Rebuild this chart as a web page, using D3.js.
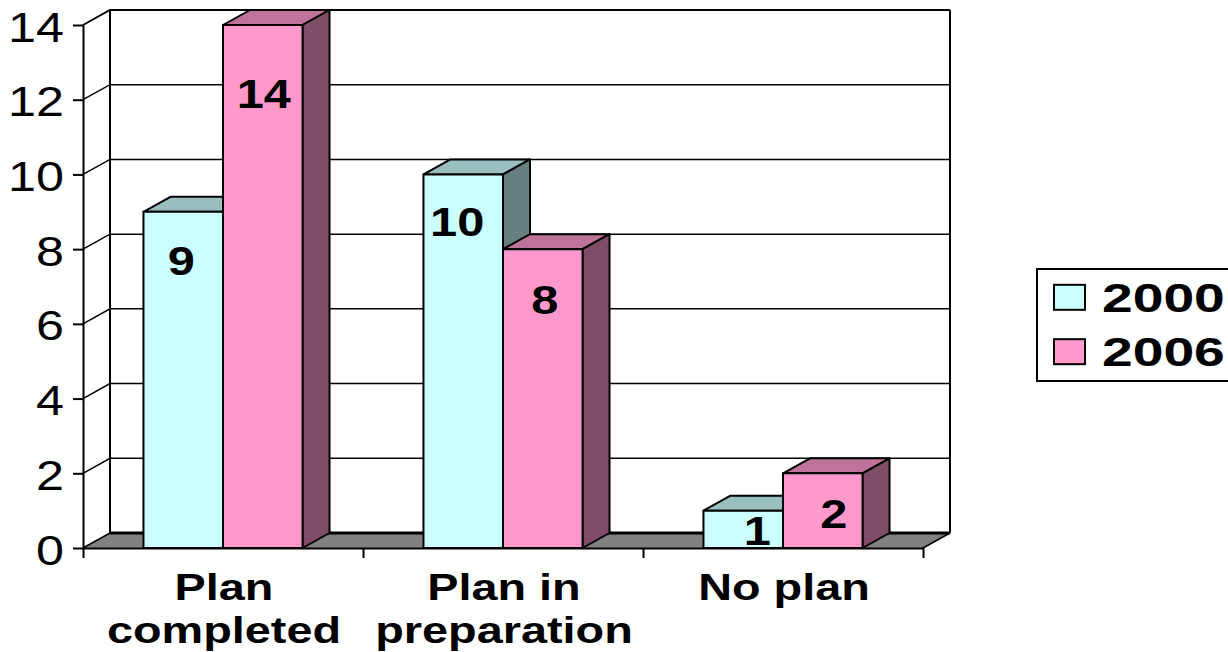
<!DOCTYPE html>
<html>
<head>
<meta charset="utf-8">
<script src="https://cdn.jsdelivr.net/npm/d3@7"></script>
<style>
  html, body { margin: 0; padding: 0; background: #fff; overflow: hidden; }
  svg { display: block; }
  text { font-family: "Liberation Sans", Arial, sans-serif; fill: #000; }
</style>
</head>
<body>
<script>
// data
const categories = ["Plan completed", "Plan in preparation", "No plan"];
const categoryLines = [["Plan", "completed"], ["Plan in", "preparation"], ["No plan"]];
const years = ["2000", "2006"];
const values2000 = [9, 10, 1];
const values2006 = [14, 8, 2];
const yTicks = [0, 2, 4, 6, 8, 10, 12, 14];

// hand placed label shift from the bar centre (the original labels are not centred)
const labelShiftX = [[-2, -6, 14], [1, 2, 11]];
const labelShiftY = [[49, 48, 20], [69, 51, 41]];

const width = 1228, height = 652;
const x0 = 83, x1 = 923, y0 = 548, y14 = 25;
const depthX = 27, depthY = -15;

const colors = [
  {front: "#ccffff", top: "#99bfbf", side: "#668080"},
  {front: "#ff99cc", top: "#bf7399", side: "#804d66"},
];
const series = [values2000, values2006];

const svg = d3.select("body").append("svg")
  .attr("width", width)
  .attr("height", height)
  .attr("viewBox", `0 0 ${width} ${height}`);

const y = d3.scaleLinear().domain([0, 14]).range([y0, y14]);
const xGroup = d3.scaleBand().domain(categories).range([x0, x1]).paddingInner(0.432).paddingOuter(0.216);
const xBar = d3.scaleBand().domain(years).range([0, xGroup.bandwidth()]);
const xEdge = d3.scaleLinear().domain([0, categories.length]).range([x0, x1]);

const poly = pts => pts.map(p => p.join(",")).join(" ");

// floor
svg.append("polygon")
  .attr("points", poly([[x0, y0], [x0 + depthX, y0 + depthY], [x1 + depthX, y0 + depthY], [x1, y0]]))
  .attr("fill", "#808080");

// gridlines, running along the left wall and then the back wall
svg.append("g").selectAll("polyline")
  .data(yTicks.filter(d => d > 0))
  .join("polyline")
  .attr("points", d => poly([[x0, y(d)], [x0 + depthX, y(d) + depthY], [x1 + depthX, y(d) + depthY]]))
  .attr("fill", "none")
  .attr("stroke", "#000")
  .attr("stroke-width", d => d === 14 ? 2 : 1.5);

// wall edges
svg.append("path")
  .attr("d", `M${x0 + depthX},${y(14) + depthY}V${y0 + depthY}M${x1 + depthX},${y(14) + depthY}V${y0 + depthY}`)
  .attr("stroke", "#000").attr("stroke-width", 2).attr("fill", "none");
svg.append("path")
  .attr("d", `M${x0},${y0}L${x0 + depthX},${y0 + depthY}M${x1},${y0}L${x1 + depthX},${y0 + depthY}`)
  .attr("stroke", "#000").attr("stroke-width", 1.5).attr("fill", "none");
svg.append("line")
  .attr("x1", x0 + depthX).attr("x2", x1 + depthX)
  .attr("y1", y0 + depthY).attr("y2", y0 + depthY)
  .attr("stroke", "#000").attr("stroke-width", 3);

// y axis
const yAxis = svg.append("g")
  .attr("transform", `translate(${x0},0)`)
  .call(d3.axisLeft(y).tickValues(yTicks).tickSize(10).tickPadding(0).tickSizeOuter(0));
yAxis.select(".domain").attr("stroke", "#000").attr("stroke-width", 2);
yAxis.selectAll(".tick line").attr("stroke", "#000").attr("stroke-width", 2);
yAxis.selectAll(".tick text")
  .attr("x", 0).attr("dy", null)
  .attr("y", 15)
  .attr("text-anchor", "end")
  .attr("font-size", 43)
  .attr("font-family", null)
  .attr("transform", "translate(-19,1) scale(1.17,1)");

// x axis, ticks sit on the category boundaries
const xAxis = svg.append("g")
  .attr("transform", `translate(0,${y0})`)
  .call(d3.axisBottom(xEdge).tickValues(d3.range(categories.length + 1)).tickFormat("").tickSize(10).tickSizeOuter(0));
xAxis.select(".domain").attr("stroke", "#000").attr("stroke-width", 2);
xAxis.selectAll(".tick line").attr("stroke", "#000").attr("stroke-width", 2);

// bars
const barData = categories.flatMap((c, i) => years.map((yr, s) => ({c, i, s, yr, v: series[s][i]})));
const barX = d => xGroup(d.c) + xBar(d.yr);
const bars = svg.append("g").selectAll("g").data(barData).join("g")
  .attr("stroke", "#000").attr("stroke-width", 2).attr("stroke-linejoin", "round");

bars.append("polygon")
  .attr("points", d => {
    const l = barX(d), r = l + xBar.bandwidth(), t = y(d.v);
    return poly([[l, t], [l + depthX, t + depthY], [r + depthX, t + depthY], [r, t]]);
  })
  .attr("fill", d => colors[d.s].top);
bars.append("polygon")
  .attr("points", d => {
    const r = barX(d) + xBar.bandwidth(), t = y(d.v);
    return poly([[r, t], [r + depthX, t + depthY], [r + depthX, y0 + depthY], [r, y0]]);
  })
  .attr("fill", d => colors[d.s].side);
bars.append("rect")
  .attr("x", barX)
  .attr("y", d => y(d.v))
  .attr("width", xBar.bandwidth())
  .attr("height", d => y0 - y(d.v))
  .attr("fill", d => colors[d.s].front);

// value labels
svg.append("g").selectAll("text").data(barData).join("text")
  .attr("text-anchor", "middle")
  .attr("font-size", 41)
  .attr("font-weight", "bold")
  .attr("transform", d => {
    const cx = barX(d) + xBar.bandwidth() / 2 + labelShiftX[d.s][d.i];
    const cy = y(d.v) + labelShiftY[d.s][d.i] + 14;
    return `translate(${cx},${cy}) scale(1.19,1)`;
  })
  .text(d => d.v);

// category labels
const catGroups = svg.append("g").selectAll("g").data(categories).join("g");
catGroups.selectAll("text")
  .data((c, i) => categoryLines[i].map((t, k) => ({t, k, c})))
  .join("text")
  .attr("text-anchor", "middle")
  .attr("font-size", 36)
  .attr("font-weight", "bold")
  .attr("transform", d => `translate(${xGroup(d.c) + xGroup.bandwidth() / 2 + 1},${600 + d.k * 43}) scale(1.3,1)`)
  .text(d => d.t);

// legend, cut off by the right edge of the picture
const legend = svg.append("g");
legend.append("rect")
  .attr("x", 1037).attr("y", 269)
  .attr("width", 200).attr("height", 112)
  .attr("fill", "#fff").attr("stroke", "#000").attr("stroke-width", 2);
const legendRow = d3.scaleBand().domain(years).range([269, 381]).paddingOuter(0.03);
const legendItems = legend.selectAll("g").data(years).join("g")
  .attr("transform", d => `translate(0,${legendRow(d) + legendRow.bandwidth() / 2})`);
legendItems.append("rect")
  .attr("x", 1054).attr("y", -13)
  .attr("width", 31).attr("height", 25)
  .attr("fill", (d, i) => colors[i].front)
  .attr("stroke", "#000").attr("stroke-width", 2);
legendItems.append("text")
  .attr("font-size", 40)
  .attr("font-weight", "bold")
  .attr("transform", "translate(1102,14) scale(1.38,1)")
  .text(d => d);
</script>
</body>
</html>
